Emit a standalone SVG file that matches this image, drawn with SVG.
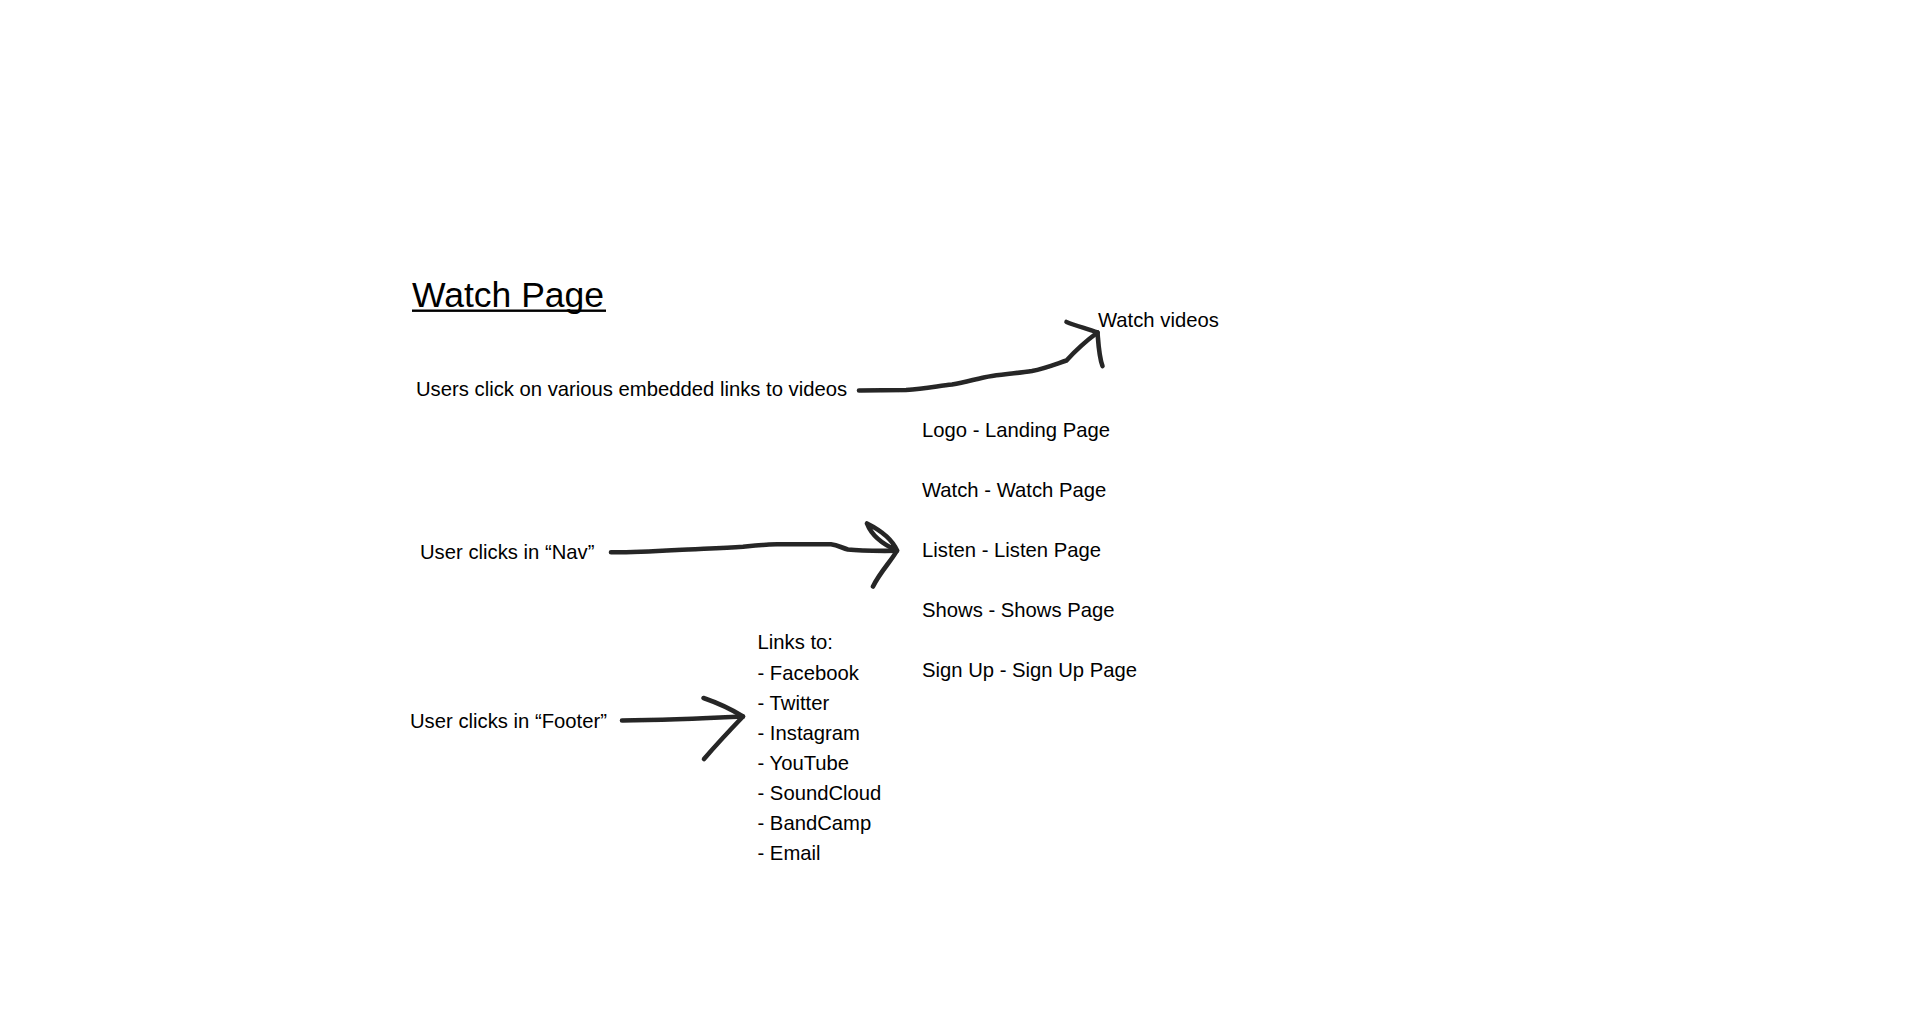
<svg xmlns="http://www.w3.org/2000/svg" width="1920" height="1035" viewBox="0 0 1920 1035">
  <defs>
    <style>
      .t { font-family: "Liberation Sans", Arial, Helvetica, sans-serif; font-size: 20.25px; fill: #000; }
      .title { font-family: "Liberation Sans", Arial, Helvetica, sans-serif; font-size: 35.5px; fill: #000; }
      .pen { fill: none; stroke: #262626; stroke-width: 4.6; stroke-linecap: round; stroke-linejoin: round; filter: url(#soft); }
    </style>
    <filter id="soft" x="-10%" y="-50%" width="120%" height="200%">
      <feGaussianBlur stdDeviation="0.6"/>
    </filter>
  </defs>
  <rect x="0" y="0" width="1920" height="1035" fill="#ffffff"/>

  <g id="title">
    <text class="title" x="412" y="307">Watch Page</text>
    <rect x="412" y="309.5" width="194" height="2.4" fill="#000"/>
  </g>

  <g id="node-users-click">
    <text class="t" x="416" y="396">Users click on various embedded links to videos</text>
  </g>
  <g id="node-watch-videos">
    <text class="t" x="1098" y="326.5">Watch videos</text>
  </g>

  <g id="node-nav">
    <text class="t" x="420" y="559">User clicks in “Nav”</text>
  </g>
  <g id="node-nav-list">
    <text class="t" x="922" y="436.5">Logo - Landing Page</text>
    <text class="t" x="922" y="496.5">Watch - Watch Page</text>
    <text class="t" x="922" y="556.5">Listen - Listen Page</text>
    <text class="t" x="922" y="616.5">Shows - Shows Page</text>
    <text class="t" x="922" y="676.5">Sign Up - Sign Up Page</text>
  </g>

  <g id="node-footer">
    <text class="t" x="410" y="727.5">User clicks in “Footer”</text>
  </g>
  <g id="node-footer-list">
    <text class="t" x="757.5" y="648.5">Links to:</text>
    <text class="t" x="757.5" y="679.5">- Facebook</text>
    <text class="t" x="757.5" y="709.5">- Twitter</text>
    <text class="t" x="757.5" y="739.5">- Instagram</text>
    <text class="t" x="757.5" y="769.5">- YouTube</text>
    <text class="t" x="757.5" y="799.5">- SoundCloud</text>
    <text class="t" x="757.5" y="829.5">- BandCamp</text>
    <text class="t" x="757.5" y="859.5">- Email</text>
  </g>

  <g id="connectors">
    <!-- Users click -> Watch videos -->
    <path class="pen" d="M859,390.5 L906,390 C925,389 938,386 952,384.5 C968,382 978,378 992,376 C1008,373.5 1020,373 1032,371 C1045,368.5 1056,364 1066.5,360.5 C1076,350 1086,341 1097.5,332.5"/>
    <path class="pen" d="M1066.5,322 C1076,326 1087,328.5 1097.5,332.5 C1098.5,345 1099,357 1102.5,366"/>

    <!-- Nav -> list -->
    <path class="pen" d="M611,552.3 C630,552.5 650,551.5 677,550 C700,548.8 722,548 743,546.7 C760,545 768,544.5 777,544.3 L831,544.3 C838,545 842,548 848,549.5 C860,551 878,551 897,550.8"/>
    <path class="pen" d="M897,550.5 C892,539 880,530 867,523.5 C871,534 882,544 897,550.5 C892,560 880,572 873,586.5"/>

    <!-- Footer -> links -->
    <path class="pen" d="M622,720.5 C660,720 700,718.5 743,716.5"/>
    <path class="pen" d="M703.5,698 C718,703 731,709 743,716.5 C731,729 716,745 704,759"/>
  </g>
</svg>
